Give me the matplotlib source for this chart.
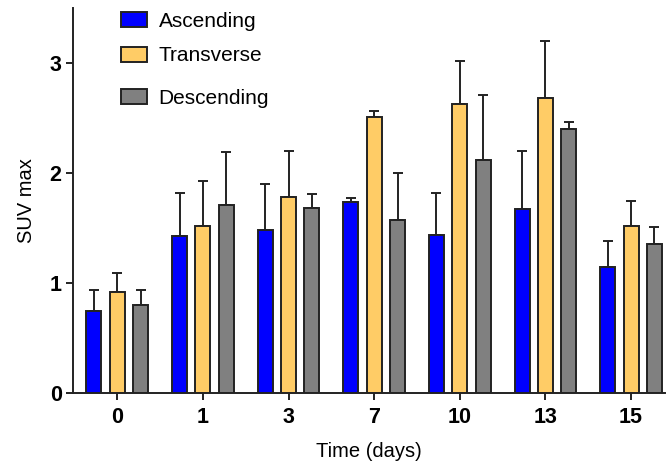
import matplotlib
matplotlib.use("Agg")
import matplotlib.pyplot as plt
from matplotlib.legend import Legend
import numpy as np

plt.rcParams['font.family'] = ['Liberation Sans', 'DejaVu Sans']

days = ['0', '1', '3', '7', '10', '13', '15']
series = ['Ascending', 'Transverse', 'Descending']

ascending = [0.75, 1.43, 1.48, 1.74, 1.44, 1.67, 1.15]
ascending_err = [0.19, 0.39, 0.42, 0.03, 0.38, 0.53, 0.23]
transverse = [0.92, 1.52, 1.78, 2.51, 2.63, 2.68, 1.52]
transverse_err = [0.17, 0.41, 0.42, 0.05, 0.39, 0.52, 0.23]
descending = [0.80, 1.71, 1.68, 1.57, 2.12, 2.40, 1.355]
descending_err = [0.14, 0.48, 0.13, 0.43, 0.59, 0.06, 0.155]

colors = ['#0000ff', '#ffcc66', '#808080']

fig = plt.figure(figsize=(6.68, 4.67), dpi=100)
ax = fig.add_axes([0.109, 0.158, 0.887, 0.825])

x = np.arange(len(days))
step = 0.273
width = 0.175
data = [(ascending, ascending_err), (transverse, transverse_err), (descending, descending_err)]
handles = []
for i, ((vals, errs), name, c) in enumerate(zip(data, series, colors)):
    pos = x + (i - 1) * step
    b = ax.bar(pos, vals, width, color=c, edgecolor='#222222', linewidth=1.4,
               label=name, zorder=3)
    handles.append(b)
    ax.errorbar(pos, vals, yerr=[np.zeros(len(vals)), errs], fmt='none',
                ecolor='#222222', elinewidth=1.4, capsize=3.5, capthick=1.4, zorder=2)

ax.set_xlim(-0.52, 6.4)
ax.set_ylim(0, 3.5)
ax.set_xticks(x)
ax.set_xticklabels(days, fontsize=15.5, fontweight='bold')
ax.set_yticks([0, 1, 2, 3])
ax.set_yticklabels(['0', '1', '2', '3'], fontsize=15.5, fontweight='bold')
ax.tick_params(axis='both', direction='out', length=5, width=1.4, color='#222222')
ax.tick_params(axis='x', pad=5)
ax.tick_params(axis='y', pad=3)

for s in ['top', 'right']:
    ax.spines[s].set_visible(False)
for s in ['left', 'bottom']:
    ax.spines[s].set_linewidth(1.4)
    ax.spines[s].set_color('#222222')

ax.set_xlabel('Time (days)', fontsize=14.5, labelpad=10)
ax.set_ylabel('SUV max', fontsize=14.5, labelpad=10)

# legend rows are not evenly spaced in the original, so one legend per row
rows_y = [1.028, 0.938, 0.828]
for h, lab, yy in zip(handles, series, rows_y):
    leg = Legend(ax, [h], [lab], loc='upper left', bbox_to_anchor=(0.057, yy),
                 frameon=False, fontsize=15, handlelength=1.25,
                 handleheight=0.75, handletextpad=0.55, borderpad=0.2)
    ax.add_artist(leg)

fig.savefig('out.png', dpi=100)
